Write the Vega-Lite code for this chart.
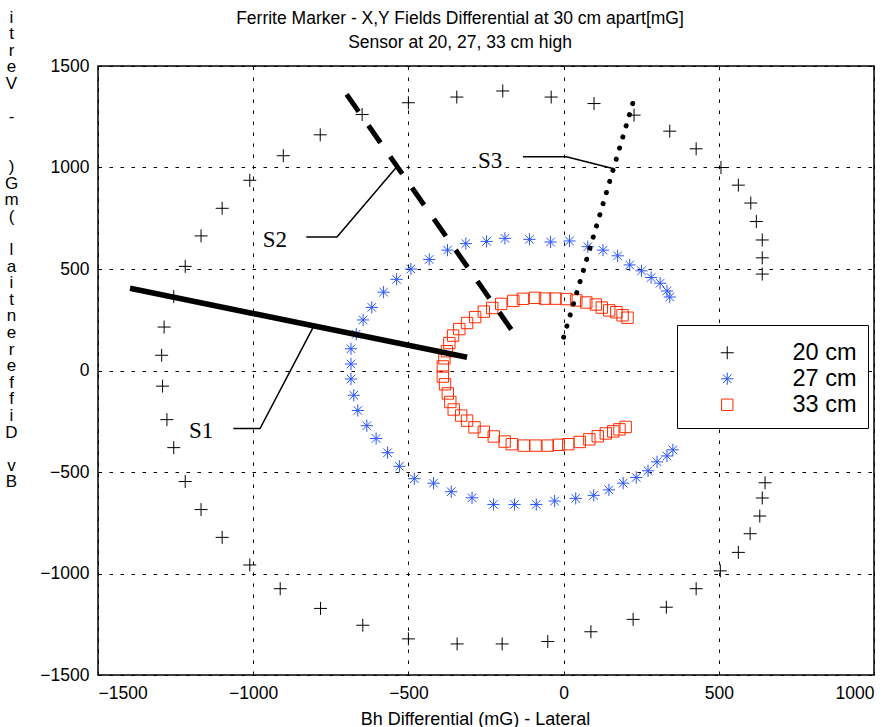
{
  "$schema": "https://vega.github.io/schema/vega-lite/v6.json",
  "width": 776,
  "height": 609,
  "autosize": "none",
  "padding": {"left": 98, "top": 66, "right": 22, "bottom": 52},
  "background": "#ffffff",
  "title": {
    "text": ["Ferrite Marker - X,Y Fields Differential at 30 cm apart[mG]", "Sensor at 20, 27, 33 cm high"],
    "font": "Liberation Sans",
    "fontSize": 17.5,
    "fontWeight": "normal",
    "color": "#000000",
    "lineHeight": 23.5,
    "anchor": "middle",
    "dx": -26,
    "offset": -43
  },
  "config": {
    "view": {"stroke": "#000000", "strokeWidth": 1.5},
    "axis": {
      "grid": true,
      "gridColor": "#000000",
      "gridDash": [3.5, 7.5],
      "gridWidth": 1,
      "gridOpacity": 1,
      "domain": false,
      "ticks": false,
      "format": "d",
      "labelFont": "Liberation Sans",
      "labelFontSize": 17.5,
      "labelColor": "#000000",
      "titleFont": "Liberation Sans",
      "titleFontSize": 17.5,
      "titleFontWeight": "normal",
      "titleColor": "#000000"
    }
  },
  "datasets": {
    "pts": [
      {"x": -784, "y": 1161, "h": "20 cm"}, {"x": -903, "y": 1058, "h": "20 cm"}, {"x": -1011, "y": 937, "h": "20 cm"}, {"x": -1100, "y": 799, "h": "20 cm"}, {"x": -1168, "y": 663, "h": "20 cm"}, {"x": -1219, "y": 513, "h": "20 cm"}, {"x": -1256, "y": 364, "h": "20 cm"}, {"x": -1287, "y": 214, "h": "20 cm"}, {"x": -1295, "y": 75, "h": "20 cm"}, {"x": -1292, "y": -77, "h": "20 cm"}, {"x": -1278, "y": -242, "h": "20 cm"}, {"x": -1256, "y": -380, "h": "20 cm"}, {"x": -1219, "y": -547, "h": "20 cm"}, {"x": -1168, "y": -685, "h": "20 cm"}, {"x": -1100, "y": -822, "h": "20 cm"}, {"x": -1011, "y": -958, "h": "20 cm"}, {"x": -913, "y": -1075, "h": "20 cm"}, {"x": -783, "y": -1172, "h": "20 cm"}, {"x": -647, "y": -1255, "h": "20 cm"}, {"x": -500, "y": -1322, "h": "20 cm"}, {"x": -343, "y": -1347, "h": "20 cm"}, {"x": -198, "y": -1347, "h": "20 cm"}, {"x": -51, "y": -1335, "h": "20 cm"}, {"x": 88, "y": -1287, "h": "20 cm"}, {"x": 224, "y": -1226, "h": "20 cm"}, {"x": 331, "y": -1166, "h": "20 cm"}, {"x": 427, "y": -1075, "h": "20 cm"}, {"x": 505, "y": -987, "h": "20 cm"}, {"x": 563, "y": -896, "h": "20 cm"}, {"x": 601, "y": -804, "h": "20 cm"}, {"x": 632, "y": -717, "h": "20 cm"}, {"x": 640, "y": -628, "h": "20 cm"}, {"x": 649, "y": -553, "h": "20 cm"}, {"x": 640, "y": 475, "h": "20 cm"}, {"x": 640, "y": 555, "h": "20 cm"}, {"x": 640, "y": 643, "h": "20 cm"}, {"x": 621, "y": 734, "h": "20 cm"}, {"x": 603, "y": 825, "h": "20 cm"}, {"x": 563, "y": 913, "h": "20 cm"}, {"x": 507, "y": 1000, "h": "20 cm"}, {"x": 427, "y": 1092, "h": "20 cm"}, {"x": 342, "y": 1179, "h": "20 cm"}, {"x": 227, "y": 1258, "h": "20 cm"}, {"x": 98, "y": 1315, "h": "20 cm"}, {"x": -40, "y": 1347, "h": "20 cm"}, {"x": -196, "y": 1377, "h": "20 cm"}, {"x": -344, "y": 1347, "h": "20 cm"}, {"x": -500, "y": 1319, "h": "20 cm"}, {"x": -649, "y": 1261, "h": "20 cm"},
      {"x": 342, "y": 362, "h": "27 cm"}, {"x": 333, "y": 392, "h": "27 cm"}, {"x": 311, "y": 430, "h": "27 cm"}, {"x": 282, "y": 458, "h": "27 cm"}, {"x": 251, "y": 491, "h": "27 cm"}, {"x": 213, "y": 520, "h": "27 cm"}, {"x": 174, "y": 565, "h": "27 cm"}, {"x": 127, "y": 593, "h": "27 cm"}, {"x": 78, "y": 610, "h": "27 cm"}, {"x": 19, "y": 638, "h": "27 cm"}, {"x": -42, "y": 633, "h": "27 cm"}, {"x": -110, "y": 646, "h": "27 cm"}, {"x": -189, "y": 651, "h": "27 cm"}, {"x": -248, "y": 636, "h": "27 cm"}, {"x": -315, "y": 625, "h": "27 cm"}, {"x": -374, "y": 593, "h": "27 cm"}, {"x": -433, "y": 547, "h": "27 cm"}, {"x": -492, "y": 500, "h": "27 cm"}, {"x": -538, "y": 449, "h": "27 cm"}, {"x": -580, "y": 386, "h": "27 cm"}, {"x": -618, "y": 311, "h": "27 cm"}, {"x": -646, "y": 249, "h": "27 cm"}, {"x": -668, "y": 179, "h": "27 cm"}, {"x": -685, "y": 107, "h": "27 cm"}, {"x": -685, "y": 32, "h": "27 cm"}, {"x": -685, "y": -42, "h": "27 cm"}, {"x": -676, "y": -122, "h": "27 cm"}, {"x": -663, "y": -197, "h": "27 cm"}, {"x": -634, "y": -272, "h": "27 cm"}, {"x": -604, "y": -335, "h": "27 cm"}, {"x": -567, "y": -405, "h": "27 cm"}, {"x": -529, "y": -472, "h": "27 cm"}, {"x": -481, "y": -533, "h": "27 cm"}, {"x": -419, "y": -555, "h": "27 cm"}, {"x": -362, "y": -597, "h": "27 cm"}, {"x": -295, "y": -627, "h": "27 cm"}, {"x": -226, "y": -660, "h": "27 cm"}, {"x": -158, "y": -660, "h": "27 cm"}, {"x": -88, "y": -660, "h": "27 cm"}, {"x": -29, "y": -643, "h": "27 cm"}, {"x": 39, "y": -630, "h": "27 cm"}, {"x": 97, "y": -615, "h": "27 cm"}, {"x": 146, "y": -588, "h": "27 cm"}, {"x": 192, "y": -555, "h": "27 cm"}, {"x": 234, "y": -527, "h": "27 cm"}, {"x": 272, "y": -494, "h": "27 cm"}, {"x": 301, "y": -450, "h": "27 cm"}, {"x": 333, "y": -421, "h": "27 cm"}, {"x": 352, "y": -391, "h": "27 cm"},
      {"x": 206, "y": 260, "h": "33 cm"}, {"x": 190, "y": 272, "h": "33 cm"}, {"x": 170, "y": 287, "h": "33 cm"}, {"x": 147, "y": 296, "h": "33 cm"}, {"x": 123, "y": 310, "h": "33 cm"}, {"x": 104, "y": 325, "h": "33 cm"}, {"x": 73, "y": 335, "h": "33 cm"}, {"x": 41, "y": 345, "h": "33 cm"}, {"x": 9, "y": 352, "h": "33 cm"}, {"x": -26, "y": 354, "h": "33 cm"}, {"x": -60, "y": 354, "h": "33 cm"}, {"x": -92, "y": 358, "h": "33 cm"}, {"x": -131, "y": 353, "h": "33 cm"}, {"x": -162, "y": 343, "h": "33 cm"}, {"x": -201, "y": 328, "h": "33 cm"}, {"x": -230, "y": 308, "h": "33 cm"}, {"x": -257, "y": 290, "h": "33 cm"}, {"x": -285, "y": 263, "h": "33 cm"}, {"x": -311, "y": 234, "h": "33 cm"}, {"x": -336, "y": 204, "h": "33 cm"}, {"x": -356, "y": 172, "h": "33 cm"}, {"x": -368, "y": 135, "h": "33 cm"}, {"x": -376, "y": 95, "h": "33 cm"}, {"x": -384, "y": 60, "h": "33 cm"}, {"x": -389, "y": 20, "h": "33 cm"}, {"x": -389, "y": -30, "h": "33 cm"}, {"x": -382, "y": -68, "h": "33 cm"}, {"x": -373, "y": -113, "h": "33 cm"}, {"x": -365, "y": -155, "h": "33 cm"}, {"x": -354, "y": -192, "h": "33 cm"}, {"x": -330, "y": -222, "h": "33 cm"}, {"x": -311, "y": -247, "h": "33 cm"}, {"x": -287, "y": -280, "h": "33 cm"}, {"x": -257, "y": -302, "h": "33 cm"}, {"x": -225, "y": -325, "h": "33 cm"}, {"x": -190, "y": -350, "h": "33 cm"}, {"x": -167, "y": -363, "h": "33 cm"}, {"x": -128, "y": -370, "h": "33 cm"}, {"x": -90, "y": -370, "h": "33 cm"}, {"x": -51, "y": -370, "h": "33 cm"}, {"x": -16, "y": -366, "h": "33 cm"}, {"x": 15, "y": -363, "h": "33 cm"}, {"x": 52, "y": -352, "h": "33 cm"}, {"x": 83, "y": -339, "h": "33 cm"}, {"x": 110, "y": -324, "h": "33 cm"}, {"x": 136, "y": -310, "h": "33 cm"}, {"x": 160, "y": -300, "h": "33 cm"}, {"x": 180, "y": -290, "h": "33 cm"}, {"x": 200, "y": -278, "h": "33 cm"}
    ],
    "s1": [{"x": -1397, "y": 405}, {"x": -311, "y": 65}],
    "s2": [{"x": -699, "y": 1360}, {"x": -153, "y": 168}],
    "s3": [{"x": 224, "y": 1322}, {"x": 0, "y": 164}],
    "ann": [
      {"g": "S1", "i": 1, "x": -1064, "y": -286}, {"g": "S1", "i": 2, "x": -978, "y": -286}, {"g": "S1", "i": 3, "x": -807, "y": 212},
      {"g": "S2", "i": 1, "x": -829, "y": 658}, {"g": "S2", "i": 2, "x": -730, "y": 658}, {"g": "S2", "i": 3, "x": -538, "y": 1003},
      {"g": "S3", "i": 1, "x": -131, "y": 1053}, {"g": "S3", "i": 2, "x": 9, "y": 1053}, {"g": "S3", "i": 3, "x": 159, "y": 995}
    ],
    "labels": [
      {"t": "S1", "x": -1168, "y": -298},
      {"t": "S2", "x": -930, "y": 645},
      {"t": "S3", "x": -237, "y": 1034}
    ]
  },
  "encoding": {
    "x": {
      "field": "x", "type": "quantitative",
      "scale": {"domain": [-1500, 1000], "nice": false, "zero": false},
      "axis": {
        "values": [-1500, -1000, -500, 0, 500, 1000],
        "labelPadding": 9,
        "title": "Bh Differential (mG) - Lateral",
        "titleX": 377,
        "titleY": 49,
        "titleAlign": "center",
        "titleBaseline": "alphabetic",
        "titleFontSize": 18
      }
    },
    "y": {
      "field": "y", "type": "quantitative",
      "scale": {"domain": [-1500, 1500], "nice": false, "zero": false},
      "axis": {
        "values": [-1500, -1000, -500, 0, 500, 1000, 1500],
        "labelPadding": 9,
        "title": ["i", "t", "r", "e", "V", "\u2800", "-", "\u2800", "\u2800", ")", "G", "m", "(", "\u2800", "l", "a", "i", "t", "n", "e", "r", "e", "f", "f", "i", "D", "\u2800", "v", "B"],
        "titleAngle": 0,
        "titleX": -87,
        "titleY": -57,
        "titleAlign": "center",
        "titleBaseline": "top",
        "titleLineHeight": 16.6,
        "titleFontSize": 17
      }
    }
  },
  "layer": [
    {
      "data": {"name": "pts"},
      "mark": {"type": "point", "filled": false, "strokeWidth": 1, "opacity": 1},
      "encoding": {
        "color": {
          "field": "h", "type": "nominal",
          "scale": {"domain": ["20 cm", "27 cm", "33 cm"], "range": ["#000000", "#2b55ff", "#ff2a00"]},
          "legend": {
            "orient": "none",
            "legendX": 579,
            "legendY": 259,
            "title": " ",
            "titleFontSize": 5,
            "titlePadding": 0,
            "padding": 11,
            "strokeColor": "#000000",
            "fillColor": "#ffffff",
            "symbolOffset": 27.5,
            "labelOffset": 53.5,
            "labelFont": "Liberation Sans",
            "labelFontSize": 23.5,
            "labelColor": "#000000",
            "rowPadding": 1,
            "symbolStrokeWidth": 1
          }
        },
        "shape": {
          "field": "h", "type": "nominal",
          "scale": {"domain": ["20 cm", "27 cm", "33 cm"], "range": ["M-1,0H1M0,-1V1", "M-1,0H1M0,-1V1M-0.7,-0.7L0.7,0.7M-0.7,0.7L0.7,-0.7", "square"]}
        },
        "size": {
          "field": "h", "type": "nominal",
          "scale": {"domain": ["20 cm", "27 cm", "33 cm"], "range": [169, 130, 80]}
        }
      }
    },
    {
      "data": {"name": "s1"},
      "mark": {"type": "line", "color": "#000000", "strokeWidth": 5.5, "strokeCap": "butt"},
      "encoding": {}
    },
    {
      "data": {"name": "s2"},
      "mark": {"type": "line", "color": "#000000", "strokeWidth": 5, "strokeDash": [21, 17], "strokeCap": "butt"},
      "encoding": {}
    },
    {
      "data": {"name": "s3"},
      "mark": {"type": "line", "color": "#000000", "strokeWidth": 5, "strokeDash": [0.1, 11.5], "strokeCap": "round"},
      "encoding": {}
    },
    {
      "data": {"name": "ann"},
      "mark": {"type": "line", "color": "#000000", "strokeWidth": 1.5},
      "encoding": {"detail": {"field": "g"}, "order": {"field": "i", "type": "quantitative"}}
    },
    {
      "data": {"name": "labels"},
      "mark": {"type": "text", "font": "Liberation Serif", "fontSize": 23, "color": "#000000", "align": "center", "baseline": "middle"},
      "encoding": {"text": {"field": "t"}}
    }
  ]
}
